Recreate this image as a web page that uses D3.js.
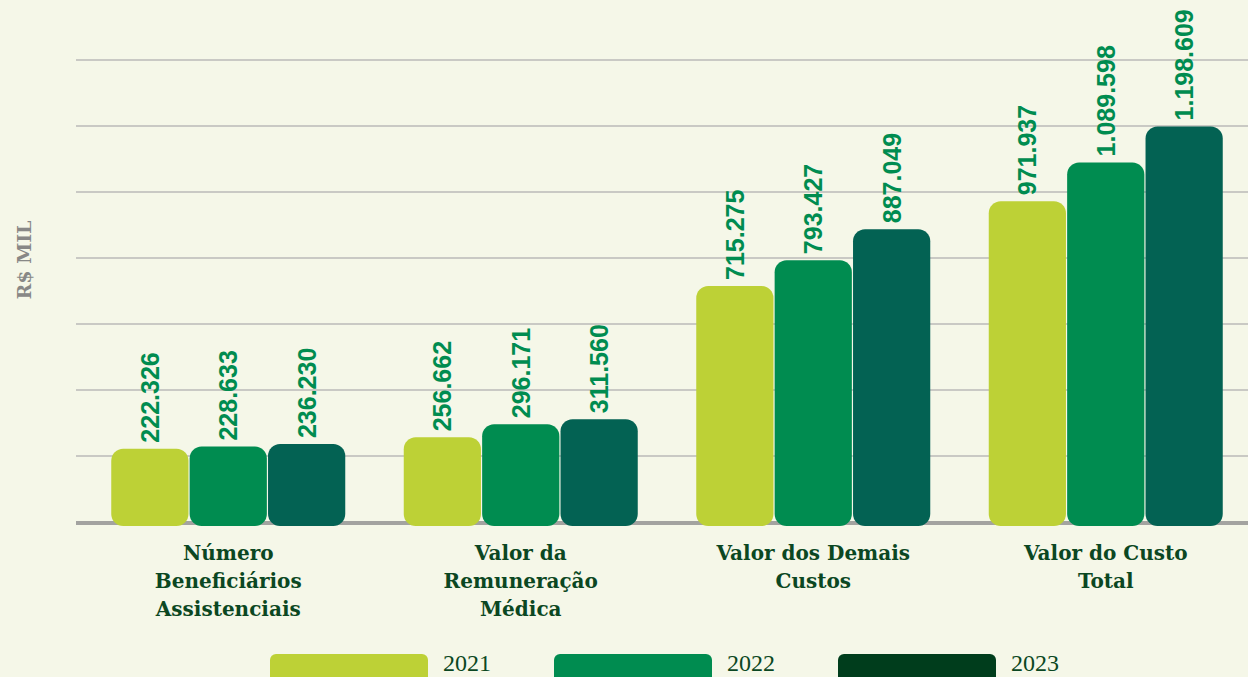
<!DOCTYPE html>
<html lang="pt-BR">
<head>
<meta charset="UTF-8">
<title>R$ MIL - Custos</title>
<script src="https://d3js.org/d3.v7.min.js"></script>
<style>
  html, body { margin: 0; padding: 0; background: #f5f7e8; }
  svg { display: block; }
</style>
</head>
<body>
<div id="chart"></div>
<script>
  // data (values in R$ mil)
  var categories = [
    ["Número", "Beneficiários", "Assistenciais"],
    ["Valor da", "Remuneração", "Médica"],
    ["Valor dos Demais", "Custos"],
    ["Valor do Custo", "Total"]
  ];
  var years = ["2021", "2022", "2023"];
  var values2021 = [222326, 256662, 715275, 971937];
  var values2022 = [228633, 296171, 793427, 1089598];
  var values2023 = [236230, 311560, 887049, 1198609];
  var gridTicks = [0, 200000, 400000, 600000, 800000, 1000000, 1200000, 1400000];

  var barColors = ["#bdd136", "#008c50", "#036253"];
  var legendColors = ["#bdd136", "#008c50", "#003d1c"];

  var w = 1248, h = 677;
  var series = [values2021, values2022, values2023];

  var svg = d3.select("#chart").append("svg")
    .attr("width", w)
    .attr("height", h);

  svg.append("rect").attr("width", w).attr("height", h).attr("fill", "#f5f7e8");

  var x0 = d3.scaleBand()
    .domain(d3.range(categories.length))
    .range([82, 1252])
    .paddingInner(0.2)
    .paddingOuter(0.1);

  var x1 = d3.scaleBand()
    .domain(years)
    .range([0, x0.bandwidth()])
    .paddingInner(0.015);

  var y = d3.scaleLinear()
    .domain([0, 1400000])
    .range([522, 60]);

  // grid lines
  svg.append("g")
    .selectAll("line")
    .data(gridTicks.slice(1))
    .enter()
    .append("line")
    .attr("x1", 76)
    .attr("x2", w)
    .attr("y1", function(d) { return y(d); })
    .attr("y2", function(d) { return y(d); })
    .attr("stroke", "#c9c9c4")
    .attr("stroke-width", 2);

  // baseline
  svg.append("line")
    .attr("x1", 76).attr("x2", w)
    .attr("y1", y(0) + 1).attr("y2", y(0) + 1)
    .attr("stroke", "#a3a3a0")
    .attr("stroke-width", 4);

  var fmt = function(v) {
    return d3.format(",")(v).replace(/,/g, ".");
  };

  // bars
  var groups = svg.selectAll("g.cat")
    .data(categories)
    .enter()
    .append("g")
    .attr("class", "cat")
    .attr("transform", function(d, i) { return "translate(" + x0(i) + ",0)"; });

  groups.selectAll("rect")
    .data(function(d, i) {
      return years.map(function(yr, j) { return { year: yr, j: j, value: series[j][i] }; });
    })
    .enter()
    .append("rect")
    .attr("x", function(d) { return x1(d.year); })
    .attr("y", function(d) { return y(d.value); })
    .attr("width", x1.bandwidth())
    .attr("height", function(d) { return y(0) - y(d.value) + 4; })
    .attr("rx", 12)
    .attr("fill", function(d) { return barColors[d.j]; });

  // value labels
  groups.selectAll("text.val")
    .data(function(d, i) {
      return years.map(function(yr, j) { return { year: yr, j: j, value: series[j][i] }; });
    })
    .enter()
    .append("text")
    .attr("class", "val")
    .attr("transform", function(d) {
      return "translate(" + (x1(d.year) + x1.bandwidth() / 2 + 9) + "," + (y(d.value) - 6) + ") rotate(-90)";
    })
    .attr("font-family", "'Liberation Sans', Arial, sans-serif")
    .attr("font-weight", "bold")
    .attr("font-size", 25)
    .attr("fill", "#008c50")
    .text(function(d) { return fmt(d.value); });

  // category labels
  groups.append("text")
    .attr("x", x0.bandwidth() / 2)
    .attr("y", 560)
    .attr("text-anchor", "middle")
    .attr("font-family", "'DejaVu Serif', serif")
    .attr("font-weight", "bold")
    .attr("font-size", 20)
    .attr("fill", "#0b4722")
    .selectAll("tspan")
    .data(function(d) { return d; })
    .enter()
    .append("tspan")
    .attr("x", x0.bandwidth() / 2)
    .attr("dy", function(d, i) { return i === 0 ? 0 : 28; })
    .text(function(d) { return d; });

  // y axis title
  svg.append("text")
    .attr("transform", "translate(31,260) rotate(-90)")
    .attr("text-anchor", "middle")
    .attr("font-family", "'DejaVu Serif', serif")
    .attr("font-weight", "bold")
    .attr("font-size", 19)
    .attr("fill", "#888886")
    .text("R$ MIL");

  // legend
  var legend = svg.selectAll("g.leg")
    .data(years)
    .enter()
    .append("g")
    .attr("class", "leg")
    .attr("transform", function(d, i) { return "translate(" + (270 + i * 284) + ",654)"; });

  legend.append("rect")
    .attr("width", 158)
    .attr("height", 30)
    .attr("rx", 6)
    .attr("fill", function(d, i) { return legendColors[i]; });

  legend.append("text")
    .attr("x", 173)
    .attr("y", 17)
    .attr("font-family", "'Liberation Serif', serif")
    .attr("font-size", 24)
    .attr("fill", "#0b4722")
    .text(function(d) { return d; });
</script>
</body>
</html>
